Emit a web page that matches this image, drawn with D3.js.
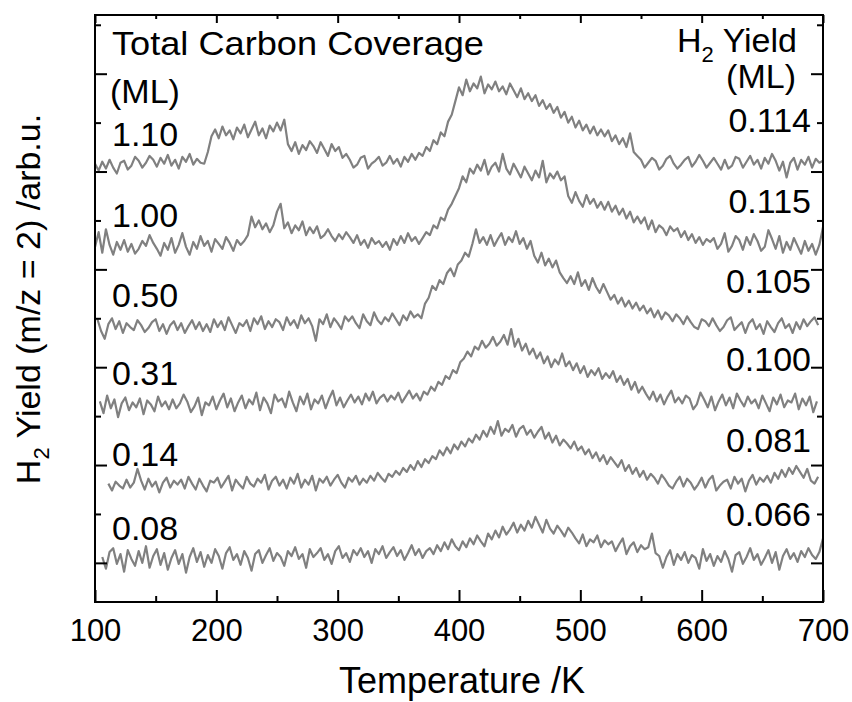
<!DOCTYPE html>
<html>
<head>
<meta charset="utf-8">
<script src="https://cdn.jsdelivr.net/npm/d3@7"></script>
<style>
  body { margin: 0; background: #fff; }
  svg text { font-family: "Liberation Sans", Arial, sans-serif; fill: #000; }
</style>
</head>
<body>
<svg id="chart" width="852" height="702"></svg>
<script>
// total carbon coverage (ML) and H2 yield (ML) for each TPD trace, top to bottom
const coverage = ["1.10", "1.00", "0.50", "0.31", "0.14", "0.08"];
const h2Yield = ["0.114", "0.115", "0.105", "0.100", "0.081", "0.066"];
// waterfall offset of each trace (arb.u.)
const offsets = [456, 373, 291, 211, 129, 53];
// first temperature of each trace (K); points every 3 K
const tStart = [100, 100, 102, 104, 111, 106];
const tStep = 3;

const xMajor = [100, 200, 300, 400, 500, 600, 700];
const xMinor = [150, 250, 350, 450, 550, 650];
const yMajor = [50, 150, 250, 350, 450, 550];
const yMinor = [100, 200, 300, 400, 500, 600];

// m/z = 2 signal (arb.u.)
const sig110 = [
  2, -5, 4, -3, 6, -2, -8, 3, 5, -4,
  0, 9, 5, -2, 3, 10, 6, -1, 8, 2,
  11, 0, 6, -3, 9, 4, 12, 1, 7, 3,
  2, 14, 30, 37, 28, 40, 31, 36, 27, 39,
  33, 42, 29, 37, 45, 31, 38, 28, 41, 35,
  44, 36, 47, 22, 15, 24, 12, 21, 16, 25,
  20, 13, 24, 17, 10, 22, 15, 19, 8, 12,
  6, -2, 1, 8, 10, -3, 2, 5, 9, 0,
  3, 10, 2, 7, -1, 9, 4, 12, 6, 13,
  10, 19, 15, 26, 22, 34, 30, 45, 52, 66,
  80, 72, 88, 76, 84, 79, 91, 74, 83, 78,
  86, 76, 81, 73, 84, 77, 70, 79, 68, 74,
  66, 72, 61, 67, 58, 63, 54, 60, 49, 55,
  44, 50, 39, 46, 36, 42, 33, 40, 31, 37,
  30, 36, 25, 31, 22, 28, 19, 33, 14, 10,
  6, -2, 3, 8, 5, -4, 0, 7, 10, 2,
  -3, 1, 6, 9, -1, 4, 11, 5, -2, 3,
  8, 2, -4, 6, -3, 0, 9, 7, -2, 4,
  10, 1, 6, -3, 8, 2, 12, 5, -5, 4,
  -12, 3, 8, -4, 6, 1, 9, -2, 7, 3,
  5
];
const sig100 = [
  0, 15, -6, 18, 2, -8, 5, -3, 7, -5,
  3, -7, -2, 6, 1, 12, 4, -2, -9, 4,
  -3, 9, -6, 2, 14, 0, -8, 5, -2, 11,
  1, 6, -5, 8, 3, -2, 10, 4, -4, 7,
  2, 6, 12, 31, 20, 27, 18, 24, 15, 22,
  36, 44, 19, 25, 14, 22, 17, 26, 12, 20,
  14, 21, 9, 12, 18, 11, 6, 13, 8, 15,
  10, 4, 12, 2, 7, -1, 9, 3, 6, 0,
  5, -3, 8, 2, 11, 4, 14, 6, 10, 3,
  9, 15, 12, 22, 19, 30, 27, 38, 44, 52,
  60, 72, 66, 80, 75, 84, 78, 89, 74, 82,
  86, 77, 95, 80, 74, 85, 78, 71, 82, 75,
  68, 78, 71, 88, 66, 75, 70, 77, 68, 72,
  52, 45, 56, 47, 41, 53, 44, 49, 40, 46,
  38, 46, 36, 42, 33, 39, 29, 36, 25, 31,
  24, 30, 18, 27, 15, 22, 19, 12, 21, 16,
  19, 10, 16, 7, 13, 4, 10, 2, 8, 5,
  9, -2, 3, 14, -5, 1, 11, 7, -3, 10,
  2, 13, 6, -4, 0, 17, 8, -2, 11, -6,
  5, -3, 9, 1, -7, 6, -4, 3, -8, 2,
  20
];
const sig050 = [
  8, -4, -12, 3, 9, -2, 6, -6, 4, 0,
  -3, 7, 2, -5, -1, 5, 8, -4, 3, -7,
  2, 6, -3, 4, -6, 1, 7, -2, 5, -4,
  3, -5, 8, 0, 6, -3, 10, 2, -6, 4,
  1, 7, -4, 9, 3, 11, -2, 6, 0, 8,
  5, -3, 10, 2, 7, -1, 12, 4, 9, 1,
  -14, 8, 3, 13, 0, 9, 4, -2, 11, 6,
  11, 4, -1, 13, 6, 2, 15, 7, 3, 10,
  6, 14, 8, 2, 12, 7, 16, 10, 13, 9,
  24, 30, 42, 38, 48, 44, 55, 60, 52, 64,
  68, 76, 72, 85, 100, 86, 92, 84, 94, 83,
  90, 96, 84, 92, 87, 98, 85, 91, 80, 88,
  73, 66, 76, 63, 70, 61, 68, 56, 50, 45,
  52, 44, 56, 42, 48, 38, 50, 41, 35, 44,
  36, 28, 33, 24, 30, 21, 27, 19, 25, 17,
  22, 14, 19, 10, 17, 8, 15, 12, 6, 13,
  9, 3, 11, 5, 0, -2, 8, 6, 1, 9,
  2, -4, 0, 7, 10, -3, 1, 5, -6, 4,
  8, -2, 3, -7, 6, 0, -5, 4, 9, -1,
  3, -6, 5, -2, 8, 1, 6, 10, 2
];
const sig031 = [
  4, -8, 10, -3, 6, -12, 2, 8, -5, 3,
  -2, 7, -9, 5, 1, -6, 9, -1, 4, -4,
  6, -3, 2, 11, 4, -7, -1, 8, -10, 3,
  0, 9, -4, 5, 12, -2, 7, -6, 3, 10,
  -3, 6, 1, 13, -5, 8, 2, -8, 11, 4,
  7, -2, 14, 3, -6, 9, 1, 12, -4, 6,
  2, 10, -3, 7, 15, 0, 8, -2, 5, 11,
  3, 9, 1, 12, 5, 14, 2, 8, 11, 4,
  10, 6, 13, 3, 9, 15, 7, 12, 5, 14,
  11, 19, 15, 24, 21, 30, 27, 36, 33, 44,
  48, 55, 50, 60, 57, 66, 59, 63, 70, 61,
  65, 72, 62, 78, 60, 68, 56, 63, 52, 58,
  48, 54, 43, 50, 39, 47, 42, 53, 40, 45,
  36, 43, 33, 40, 29, 36, 31, 38, 27, 33,
  28, 35, 24, 30, 21, 27, 16, 24, 13, 19,
  12, 6, 14, 4, 11, 1, 9, 15, 3, 8,
  2, 10, 7, -4, 1, 13, 6, -2, 9, -5,
  4, 11, 0, 8, -3, 12, 5, -1, 9, 2,
  6, -3, 10, 2, -6, 8, 1, 11, -2, 5,
  3, 12, -4, 7, 0, 9, -7, 4
];
const sig014 = [
  2, -5, 4, 0, -3, 6, -2, 3, 17, 5,
  -4, 7, -1, 4, -7, 3, 8, -2, 5, 1,
  6, -3, 9, 2, -4, 7, 0, -6, 5, 3,
  8, -2, 4, 10, -5, 6, 1, -3, 9, 2,
  -1, 7, 3, 11, -4, 5, 9, 0, 6, -3,
  8, 2, 12, -2, 6, 1, 10, -5, 7, 3,
  9, 0, 6, 11, 3, -2, 8, 4, 10, 1,
  7, 3, 10, 5, 13, 8, 4, 12, 9, 15,
  11, 18, 14, 21, 16, 25, 19, 27, 23, 30,
  27, 36, 31, 39, 33, 42, 37, 45, 40, 48,
  44, 52, 47, 56, 50, 60, 53, 66, 51, 58,
  55, 62, 50, 58, 61, 52, 57, 49, 55, 60,
  48, 54, 44, 51, 41, 47, 43, 38, 45, 36,
  40, 32, 37, 28, 34, 25, 31, 22, 29, 24,
  19, 26, 15, 21, 12, 18, 9, 15, 6, 12,
  8, 2, 11, 6, 0, -3, 4, 9, -1, 7,
  3, -4, 1, 8, -2, 6, 10, -5, 0, 4,
  6, -3, 9, 2, 7, -6, 5, 11, 1, 8,
  4, 10, 3, 13, 7, 16, 9, 18, 12, 20,
  14, 8, 17, 5, 2, 9
];
const sig008 = [
  3, -9, 8, 12, -4, 6, -12, 10, 1, -6,
  9, -3, 14, -8, 4, 11, -5, 7, -10, 2,
  10, -4, 6, -13, 3, 12, -2, 8, -7, 5,
  -3, 11, 4, -9, 7, 13, 0, 6, -5, 9,
  2, -11, 6, 10, -3, 5, 12, -1, 7, 3,
  -6, 9, 4, 13, 1, 6, -8, 11, 3, 7,
  12, 0, 6, -4, 9, 14, 2, 7, -2, 10,
  5, 12, 3, 9, -3, 11, 6, 14, 2, 8,
  13, 4, 10, 0, 7, 15, 5, 11, 2, 9,
  12, 6, 15, 9, 18, 11, 21, 14, 10, 19,
  13, 22, 16, 25, 19, 14, 27, 21, 30, 23,
  34, 26, 31, 38, 28, 36, 30, 40, 33, 44,
  36, 28, 41, 32, 27, 35, 30, 24, 33, 28,
  22, 17, 26, 14, 21, 18, 25, 13, 20, 16,
  19, 9, 16, 22, 6, 14, 18, 8, 15, 11,
  13, 27, 7, 4, -8, 3, 10, -5, 6, 0,
  8, -3, 5, 2, -9, 11, -1, 6, -6, 4,
  -2, 9, 1, -12, 5, 8, -4, 3, 12, 0,
  6, -5, 2, 10, -3, 8, -10, 4, 11, 1,
  7, -2, 9, 3, 12, 5, 1, 8, 22
];
const signals = [sig110, sig100, sig050, sig031, sig014, sig008];

const width = 852, height = 702;
const margin = {top: 15, right: 29, bottom: 100, left: 95};

const svg = d3.select("#chart");

const x = d3.scaleLinear().domain([100, 700]).range([margin.left, width - margin.right]);
const y = d3.scaleLinear().domain([10, 610]).range([height - margin.bottom, margin.top]);

// traces
const line = d3.line()
    .x(d => x(d.t))
    .y(d => y(d.v));

const traces = signals.map((s, k) => s.map((v, i) => ({t: tStart[k] + i * tStep, v: v + offsets[k]})));

svg.append("g").selectAll("path")
    .data(traces)
    .join("path")
    .attr("d", line)
    .attr("fill", "none")
    .attr("stroke", "#808080")
    .attr("stroke-width", 2.2)
    .attr("stroke-linejoin", "round");

// axes, ticks pointing inwards
function styleAxis(g) {
    g.select(".domain").remove();
    g.selectAll(".tick line").attr("stroke", "#000").attr("stroke-width", 2);
}

svg.append("g")
    .attr("transform", `translate(0,${y.range()[0]})`)
    .call(d3.axisBottom(x).tickValues(xMajor).tickSizeInner(-12).tickSizeOuter(0).tickPadding(17))
    .call(styleAxis)
    .call(g => g.selectAll("text").attr("font-size", 31).attr("font-family", "Liberation Sans, Arial, sans-serif"));
svg.append("g")
    .attr("transform", `translate(0,${y.range()[0]})`)
    .call(d3.axisBottom(x).tickValues(xMinor).tickSizeInner(-6).tickSizeOuter(0).tickFormat(""))
    .call(styleAxis);
svg.append("g")
    .attr("transform", `translate(0,${y.range()[1]})`)
    .call(d3.axisTop(x).tickValues(xMajor).tickSizeInner(-8).tickSizeOuter(0).tickFormat(""))
    .call(styleAxis);
svg.append("g")
    .attr("transform", `translate(0,${y.range()[1]})`)
    .call(d3.axisTop(x).tickValues(xMinor).tickSizeInner(-4).tickSizeOuter(0).tickFormat(""))
    .call(styleAxis);

svg.append("g")
    .attr("transform", `translate(${x.range()[0]},0)`)
    .call(d3.axisLeft(y).tickValues(yMajor).tickSizeInner(-12).tickSizeOuter(0).tickFormat(""))
    .call(styleAxis);
svg.append("g")
    .attr("transform", `translate(${x.range()[0]},0)`)
    .call(d3.axisLeft(y).tickValues(yMinor).tickSizeInner(-6).tickSizeOuter(0).tickFormat(""))
    .call(styleAxis);
svg.append("g")
    .attr("transform", `translate(${x.range()[1]},0)`)
    .call(d3.axisRight(y).tickValues(yMajor).tickSizeInner(-12).tickSizeOuter(0).tickFormat(""))
    .call(styleAxis);
svg.append("g")
    .attr("transform", `translate(${x.range()[1]},0)`)
    .call(d3.axisRight(y).tickValues(yMinor).tickSizeInner(-6).tickSizeOuter(0).tickFormat(""))
    .call(styleAxis);

// frame
svg.append("rect")
    .attr("x", x.range()[0])
    .attr("y", y.range()[1])
    .attr("width", x.range()[1] - x.range()[0])
    .attr("height", y.range()[0] - y.range()[1])
    .attr("fill", "none")
    .attr("stroke", "#000")
    .attr("stroke-width", 2);

// axis titles
svg.append("text")
    .attr("x", (x.range()[0] + x.range()[1]) / 2 + 3)
    .attr("y", 693)
    .attr("text-anchor", "middle")
    .attr("font-size", 36)
    .text("Temperature /K");

const yTitle = svg.append("text")
    .attr("transform", "translate(40,299) rotate(-90)")
    .attr("text-anchor", "middle")
    .attr("font-size", 34);
yTitle.append("tspan").text("H");
yTitle.append("tspan").attr("font-size", 22).attr("dy", 9).text("2");
yTitle.append("tspan").attr("dy", -9).text(" Yield (m/z = 2) /arb.u.");

// column headers
svg.append("text").attr("x", 112).attr("y", 55).attr("font-size", 34)
    .attr("textLength", 372).attr("lengthAdjust", "spacingAndGlyphs")
    .text("Total Carbon Coverage");
svg.append("text").attr("x", 110).attr("y", 103).attr("font-size", 34).text("(ML)");

const yHead = svg.append("text")
    .attr("x", 797).attr("y", 52)
    .attr("text-anchor", "end")
    .attr("font-size", 34);
yHead.append("tspan").text("H");
yHead.append("tspan").attr("font-size", 22).attr("dy", 10).text("2");
yHead.append("tspan").attr("dy", -10).text(" Yield");
svg.append("text").attr("x", 796).attr("y", 88).attr("text-anchor", "end").attr("font-size", 34).text("(ML)");

// per-trace labels
svg.append("g").selectAll("text")
    .data(coverage)
    .join("text")
    .attr("x", 112)
    .attr("y", (d, k) => y(offsets[k]) - 20)
    .attr("font-size", 34)
    .text(d => d);

svg.append("g").selectAll("text")
    .data(h2Yield)
    .join("text")
    .attr("x", 811)
    .attr("y", (d, k) => y(offsets[k]) - 34)
    .attr("text-anchor", "end")
    .attr("font-size", 34)
    .text(d => d);
</script>
</body>
</html>
